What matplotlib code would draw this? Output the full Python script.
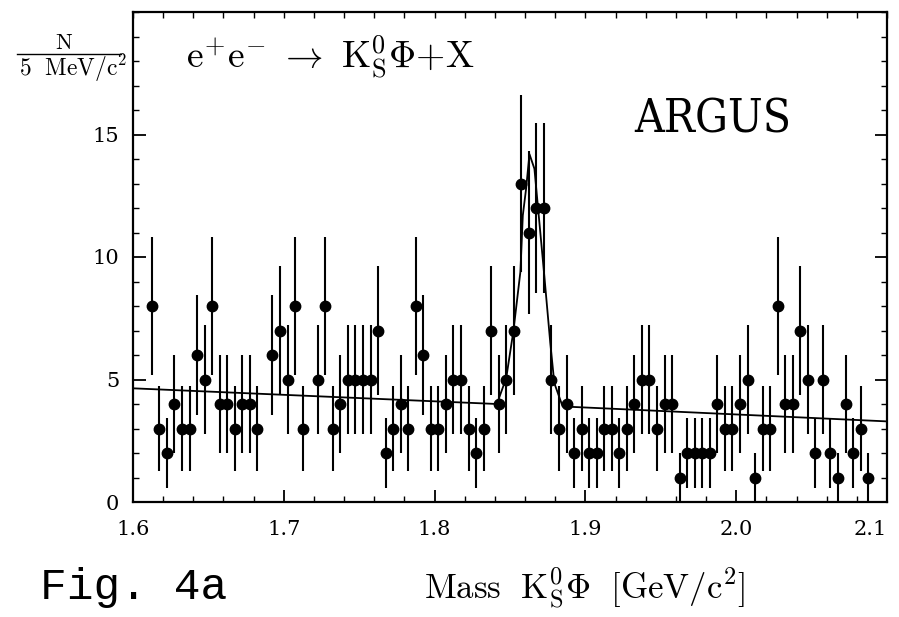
import numpy as np
import matplotlib
matplotlib.use('Agg')
import matplotlib.pyplot as plt
from matplotlib.lines import Line2D

plt.rcParams['mathtext.fontset'] = 'cm'

# 5 MeV bins, centres 1.6125 ... 2.0875
mass = 1.6025 + 0.005 * np.arange(2, 98)
counts = [8, 3, 2, 4, 3, 3, 6, 5, 8, 4, 4, 3, 4, 4, 3, 0, 6, 7, 5, 8,
          3, 0, 5, 8, 3, 4, 5, 5, 5, 5, 7, 2, 3, 4, 3, 8, 6, 3, 3, 4,
          5, 5, 3, 2, 3, 7, 4, 5, 7, 13, 11, 12, 12, 5, 3, 4, 2, 3, 2, 2,
          3, 3, 2, 3, 4, 5, 5, 3, 4, 4, 1, 2, 2, 2, 2, 4, 3, 3, 4, 5,
          1, 3, 3, 8, 4, 4, 7, 5, 2, 5, 2, 1, 4, 2, 3, 1]

# fit curve
fit_x = [1.600, 1.8413, 1.8475, 1.8523, 1.8569, 1.8585, 1.8607, 1.8629,
         1.8662, 1.8695, 1.8728, 1.8767, 1.8794, 1.8849, 2.100]
fit_y = [4.64, 4.00, 5.06, 7.0, 9.4, 11.7, 12.8, 14.2,
         13.6, 11.4, 9.2, 6.5, 4.85, 3.9, 3.29]

xtick_vals = [1.6, 1.7, 1.8, 1.9, 2.0, 2.1]
xtick_labels = ['1.6', '1.7', '1.8', '1.9', '2.0', '2.1']

counts = np.array(counts, dtype=float)
sel = counts > 0
x = mass[sel]
y = counts[sel]

fig = plt.figure(figsize=(8.99, 6.17), dpi=100)
ax = fig.add_axes([133/899, 1 - 502/617, (887-133)/899, (502-12)/617])

ax.errorbar(x, y, yerr=np.sqrt(y), fmt='o', color='black', ms=7.5,
            elinewidth=1.5, capsize=0)
ax.plot(fit_x, fit_y, color='black', lw=1.3)

ax.set_xlim(1.6, 2.1)
ax.set_ylim(0, 20)
ax.set_xticks(xtick_vals)
ax.set_xticklabels(xtick_labels)
ax.set_xticks(np.arange(1.6, 2.1001, 0.02), minor=True)
ax.set_yticks([0, 5, 10, 15])
ax.set_yticks(np.arange(0, 21, 1), minor=True)
ax.tick_params(axis='both', which='major', direction='in', length=9,
               width=1.3, labelsize=15)
ax.tick_params(axis='both', which='minor', direction='in', length=4,
               width=1.0)
ax.tick_params(axis='y', which='both', right=True)
ax.tick_params(axis='x', which='major', pad=13)
ax.tick_params(axis='y', which='major', pad=10)
for lab in ax.get_xticklabels() + ax.get_yticklabels():
    lab.set_fontfamily('DejaVu Serif')
ax.get_xticklabels()[-1].set_ha('right')

top = ax.secondary_xaxis('top')
top.set_xticks(np.arange(1.6, 2.1001, 0.02))
top.tick_params(direction='in', length=4, width=1.0, labeltop=False)
top.spines['top'].set_visible(False)

for s in ax.spines.values():
    s.set_linewidth(1.6)

# texts
ax.text(0.07, 0.885, r'$\mathrm{e^{+}e^{-}\ \rightarrow\ K^{0}_{S}\Phi{+}X}$',
        transform=ax.transAxes, fontsize=27)
ax.text(0.665, 0.755, 'ARGUS', transform=ax.transAxes, fontsize=33,
        family='DejaVu Serif', fontstretch='condensed')

fig.text(64/899, 1 - 43/617, r'$\mathrm{N}$', ha='center', va='center',
         fontsize=16)
fig.add_artist(Line2D([17/899, 121/899], [1 - 54/617, 1 - 54/617],
                      color='black', lw=1.0))
fig.text(73/899, 1 - 68/617, r'$\mathrm{5\ \ MeV/c^{2}}$', ha='center',
         va='center', fontsize=17)

fig.text(40/899, 1 - 588/617, 'Fig. 4a', family='Liberation Mono',
         fontsize=32, va='center')
fig.text(585/899, 1 - 588/617, r'$\mathrm{Mass\ \ K^{0}_{S}\Phi\ \ [GeV/c^{2}]}$',
         ha='center', va='center', fontsize=25)

fig.savefig('out.png', dpi=100)
